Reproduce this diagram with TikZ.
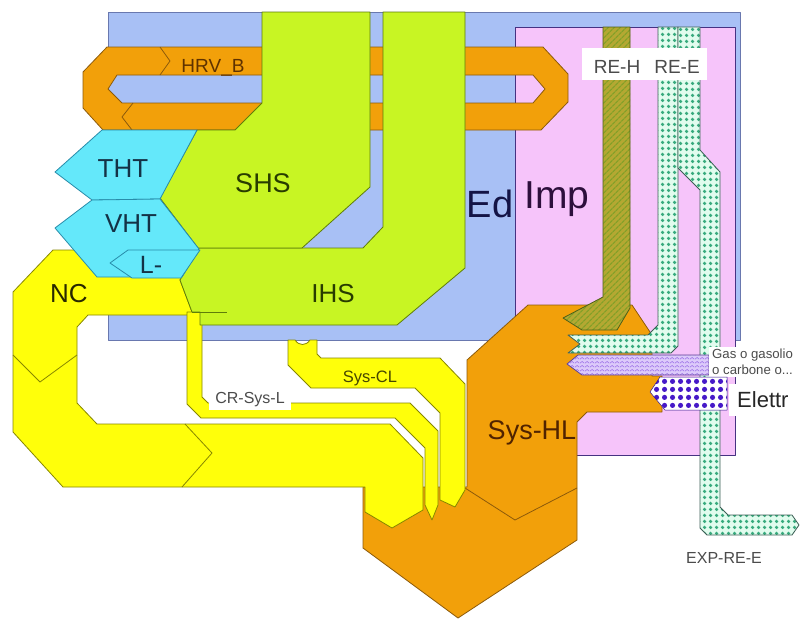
\documentclass[tikz,border=0pt]{standalone}
\usepackage{fontspec}
\setmainfont{Liberation Sans}
\usetikzlibrary{patterns,patterns.meta}
\definecolor{edblue}{RGB}{168,192,245}
\definecolor{edline}{RGB}{105,120,175}
\definecolor{imppink}{RGB}{246,196,250}
\definecolor{impline}{RGB}{70,50,130}
\definecolor{orng}{RGB}{242,160,10}
\definecolor{orngline}{RGB}{140,90,10}
\definecolor{limefill}{RGB}{200,245,35}
\definecolor{limeline}{RGB}{95,125,10}
\definecolor{ylwfill}{RGB}{255,255,10}
\definecolor{ylwline}{RGB}{135,135,0}
\definecolor{cyanfill}{RGB}{100,232,250}
\definecolor{cyanline}{RGB}{40,140,170}
\definecolor{olivefill}{RGB}{180,168,50}
\definecolor{olivestripe}{RGB}{130,160,40}
\definecolor{mintfill}{RGB}{225,252,238}
\definecolor{mintdot}{RGB}{55,170,125}
\definecolor{mintline}{RGB}{60,95,85}
\definecolor{lavfill}{RGB}{220,202,250}
\definecolor{lavzig}{RGB}{150,105,230}
\definecolor{lavline}{RGB}{95,65,150}
\definecolor{eldot}{RGB}{70,25,200}
\definecolor{txtgray}{RGB}{75,75,75}
\tikzdeclarepattern{name=gdots, type=uncolored,
  bounding box={(0pt,0pt) and (6pt,6pt)}, tile size={(6pt,6pt)},
  code={\fill (3pt,3pt) circle (2.1pt);}}
\tikzdeclarepattern{name=edots, type=uncolored,
  bounding box={(0pt,0pt) and (7.5pt,7.5pt)}, tile size={(7.5pt,7.5pt)},
  code={\fill (3.75pt,3.75pt) circle (2.7pt);}}
\tikzdeclarepattern{name=zigzag, type=uncolored,
  bounding box={(0pt,0pt) and (5pt,4pt)}, tile size={(5pt,4pt)},
  code={\draw[line width=0.6pt] (0pt,1pt) -- (2.5pt,3pt) -- (5pt,1pt);}}
\newcommand{\fsz}[1]{\fontsize{#1}{#1}\selectfont}
\begin{document}
\begin{tikzpicture}[x=1pt,y=-1pt,line join=round,
  shp/.style={line width=0.8pt},
  blueshape/.style={shp,fill=edblue,draw=edline},
  pinkshape/.style={shp,fill=imppink,draw=impline},
  orngshape/.style={shp,fill=orng,draw=orngline},
  limeshape/.style={shp,fill=limefill,draw=limeline},
  ylwshape/.style={shp,fill=ylwfill,draw=ylwline},
  cyanshape/.style={shp,fill=cyanfill,draw=cyanline},
  oliveband/.style={shp,draw=olivestripe!60!black,preaction={fill=olivefill},pattern={Lines[angle=45,distance=4pt,line width=1.3pt]},pattern color=olivestripe},
  greenband/.style={shp,draw=mintline,preaction={fill=mintfill},pattern=gdots,pattern color=mintdot},
  lavband/.style={shp,draw=lavline,preaction={fill=lavfill},pattern=zigzag,pattern color=lavzig},
  elband/.style={line width=0.5pt,draw=eldot!70!black,preaction={fill=white},pattern=edots,pattern color=eldot},
  lbl/.style={inner sep=0pt,anchor=base}]
\useasboundingbox (0,0) rectangle (800,619);
\fill[white] (0,0) rectangle (800,619);

% Ed and Imp boxes
\path[blueshape] (108,12) rectangle (740,340);
\path[pinkshape] (515,27) rectangle (735,455);

% HRV_B ring
\path[orngshape,even odd rule] (107,47) -- (543,47) -- (568,74) -- (568,102) -- (541,130) -- (103,130) -- (83,108) -- (83,72) -- cycle
  (117,75) -- (533,75) -- (545,89) -- (533,103) -- (122,103) -- (108,89) -- cycle;
\draw[shp,orngline] (160,47) -- (170,61) -- (160,75);
\draw[shp,orngline] (133,103) -- (122,117) -- (132,130);

% Sys-HL and bottom
\path[orngshape] (467,360) -- (528,305) -- (632,305) -- (652,335) -- (652,376) -- (662,376) -- (662,412) -- (587,412) -- (577,422) -- (577,540) -- (458,618) -- (363,548) -- (363,487) -- (467,487) -- cycle;
\draw[shp,orngline] (465,488) -- (515,520) -- (577,488);

% NC
\path[ylwshape] (53,250) -- (200,250) -- (180,280) -- (192,312) -- (192,315) -- (88,315) -- (77,327) -- (77,403) -- (97,424) -- (390,424) -- (423,458) -- (423,510) -- (392,528) -- (365,512) -- (365,487) -- (63,487) -- (13,432) -- (13,292) -- cycle;
\draw[shp,ylwline] (13,355) -- (40,382) -- (77,355);
\draw[shp,ylwline] (185,424) -- (212,453) -- (182,487);

% CR-Sys-L
\path[ylwshape] (187,312) -- (202,312) -- (202,397) -- (208,403) -- (410,403) -- (438,431) -- (438,505) -- (432,520) -- (425,505) -- (425,448) -- (395,418) -- (201,418) -- (187,404) -- cycle;

% Sys-CL
\path[ylwshape] (288,340) -- (295,340) .. controls (299,346) and (306,346) .. (310,340) -- (317,340) -- (317,354) -- (321,358) -- (440,358) -- (465,384) -- (465,490) -- (455,507) -- (440,500) -- (440,413) -- (415,388) -- (311,388) -- (288,365) -- cycle;

% IHS and SHS
\path[limeshape] (383,12) -- (465,12) -- (465,268) -- (397,325) -- (200,325) -- (200,312) -- (192,312) -- (180,280) -- (199,248) -- (363,248) -- (383,227) -- cycle;
\draw[shp,limeline] (192,312) -- (227,312);
\path[limeshape] (262,12) -- (370,12) -- (370,187) -- (302,248) -- (198,248) -- (160,198) -- (197,130) -- (235,130) -- (262,103) -- cycle;

% THT, VHT, L-
\path[cyanshape] (102,130) -- (197,130) -- (160,199) -- (92,200) -- (55,172) -- cycle;
\path[cyanshape] (92,200) -- (160,199) -- (199,249) -- (182,277) -- (97,277) -- (55,228) -- cycle;
\path[cyanshape] (110,263) -- (128,250) -- (200,250) -- (181,278) -- (132,278) -- cycle;

% bands in Imp
\path[oliveband] (603,27) -- (630,27) -- (630,308) -- (617,330) -- (582,330) -- (563,318) -- (603,297) -- cycle;
\path[greenband] (658,27) -- (678,27) -- (678,346) -- (671,353) -- (568,353) -- (580,344) -- (568,335) -- (648,335) -- (658,325) -- cycle;
\path[greenband] (678,27) -- (700,27) -- (700,150) -- (720,172) -- (720,507) -- (728,515) -- (792,515) -- (799,525) -- (792,535) -- (707,535) -- (700,528) -- (700,190) -- (678,168) -- cycle;
\path[lavband] (578,355) -- (709,355) -- (709,375) -- (582,375) -- (567,364) -- cycle;

\node (gaslbl) [fill=white,anchor=north west,align=left,inner xsep=3pt,inner ysep=2pt,text=txtgray,font=\fontsize{13.2}{16}\selectfont] at (709,347) {Gas o gasolio\\o carbone o...};
\path[elband] (660,377) -- (727,377) -- (727,410) -- (665,410) -- (650,392) -- cycle;
\node (elettr) [fill=white,anchor=west,minimum height=32pt,inner xsep=8pt,inner ysep=0pt,text=black!85,font=\fsz{22}] at (729,400) {Elettr};

% RE labels
\node (relbox) [fill=white,minimum width=125pt,minimum height=32pt,inner sep=0pt] at (644.5,64) {};
\node (reh) [lbl,text=txtgray,font=\fsz{19}] at (617,73) {RE-H};
\node (ree) [lbl,text=txtgray,font=\fsz{19}] at (677,73) {RE-E};

% labels
\node (hrvb) [lbl,text={rgb,255:red,95;green,50;blue,0},font=\fsz{19}] at (213,72) {HRV\_B};
\node (shs) [lbl,text={rgb,255:red,40;green,60;blue,0},font=\fsz{27}] at (263,192) {SHS};
\node (ihs) [lbl,text={rgb,255:red,40;green,60;blue,0},font=\fsz{26}] at (333,302) {IHS};
\node (tht) [lbl,text={rgb,255:red,20;green,50;blue,70},font=\fsz{26}] at (123,177) {THT};
\node (vht) [lbl,text={rgb,255:red,20;green,50;blue,70},font=\fsz{26}] at (131,232) {VHT};
\node (lminus) [lbl,text={rgb,255:red,20;green,50;blue,70},font=\fsz{25}] at (151,273) {L-};
\node (nc) [lbl,text={rgb,255:red,40;green,40;blue,0},font=\fsz{26}] at (69,302) {NC};
\node (ed) [lbl,text={rgb,255:red,20;green,20;blue,70},font=\fsz{38}] at (490,217) {Ed};
\node (imp) [lbl,text={rgb,255:red,45;green,15;blue,60},font=\fsz{39}] at (557,208) {Imp};
\node (syshl) [lbl,text={rgb,255:red,80;green,35;blue,0},font=\fsz{27}] at (532,439) {Sys-HL};
\node (syscl) [lbl,text={rgb,255:red,70;green,70;blue,0},font=\fsz{16.5}] at (370,382) {Sys-CL};
\node (crsysl) [fill=white,anchor=base,inner xsep=6pt,inner ysep=4pt,text=txtgray,font=\fsz{16}] at (250,403) {CR-Sys-L};
\node (expree) [lbl,text=txtgray,font=\fsz{16}] at (724,563) {EXP-RE-E};
\end{tikzpicture}
\end{document}
